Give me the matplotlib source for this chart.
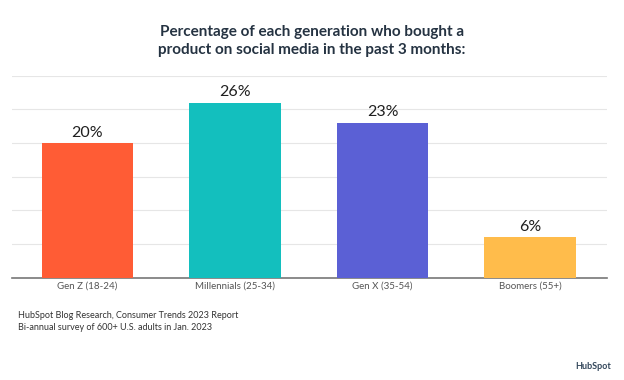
import matplotlib
matplotlib.use("Agg")
import matplotlib.pyplot as plt

categories = ["Gen Z (18-24)", "Millennials (25-34)", "Gen X (35-54)", "Boomers (55+)"]
values = [20, 26, 23, 6]
labels = ["20%", "26%", "23%", "6%"]
colors = ["#FF5C35", "#13BFBE", "#5B60D5", "#FFBC4B"]
title = "Percentage of each generation who bought a\nproduct on social media in the past 3 months:"
source1 = "HubSpot Blog Research, Consumer Trends 2023 Report"
source2 = "Bi-annual survey of 600+ U.S. adults in Jan. 2023"

plt.rcParams['font.family'] = ['Lato', 'DejaVu Sans']

fig = plt.figure(figsize=(6.24, 3.8), dpi=100)
ax = fig.add_axes([12/624, 1-277.5/380, (607-12)/624, (277.5-75.7)/380])

x = range(len(categories))
ax.bar(x, values, width=0.62, color=colors, zorder=3)
for xi, v, lab in zip(x, values, labels):
    ax.text(xi, v + 0.5, lab, ha='center', va='bottom', fontsize=11.5, color='#1f1f1f')

ax.set_ylim(0, 30)
ax.set_xlim(-0.51, 3.52)
ax.set_yticks(range(0, 31, 5))
ax.yaxis.grid(True, color='#e6e6e6', linewidth=0.8, zorder=0)
ax.tick_params(axis='y', left=False, labelleft=False)
ax.tick_params(axis='x', length=0, pad=3, labelsize=7, labelcolor='#555555')
ax.set_xticks(list(x))
ax.set_xticklabels(categories)
for s in ['top', 'right', 'left']:
    ax.spines[s].set_visible(False)
ax.spines['bottom'].set_color('#777777')
ax.spines['bottom'].set_linewidth(1.2)

fig.text(0.5, 1-41/380, title, ha='center', va='center', fontsize=11, fontweight='bold',
         color='#253342', linespacing=1.45)
fig.text(18/624, 1-315.7/380, source1, ha='left', va='center', fontsize=6.5, color='#333333')
fig.text(18/624, 1-327.7/380, source2, ha='left', va='center', fontsize=6.5, color='#333333')
fig.text(593/624, 1-366.5/380, "HubSpot", ha='center', va='center', fontsize=6.5,
         fontweight='bold', color='#33475b')

fig.savefig("out.png", dpi=100)
